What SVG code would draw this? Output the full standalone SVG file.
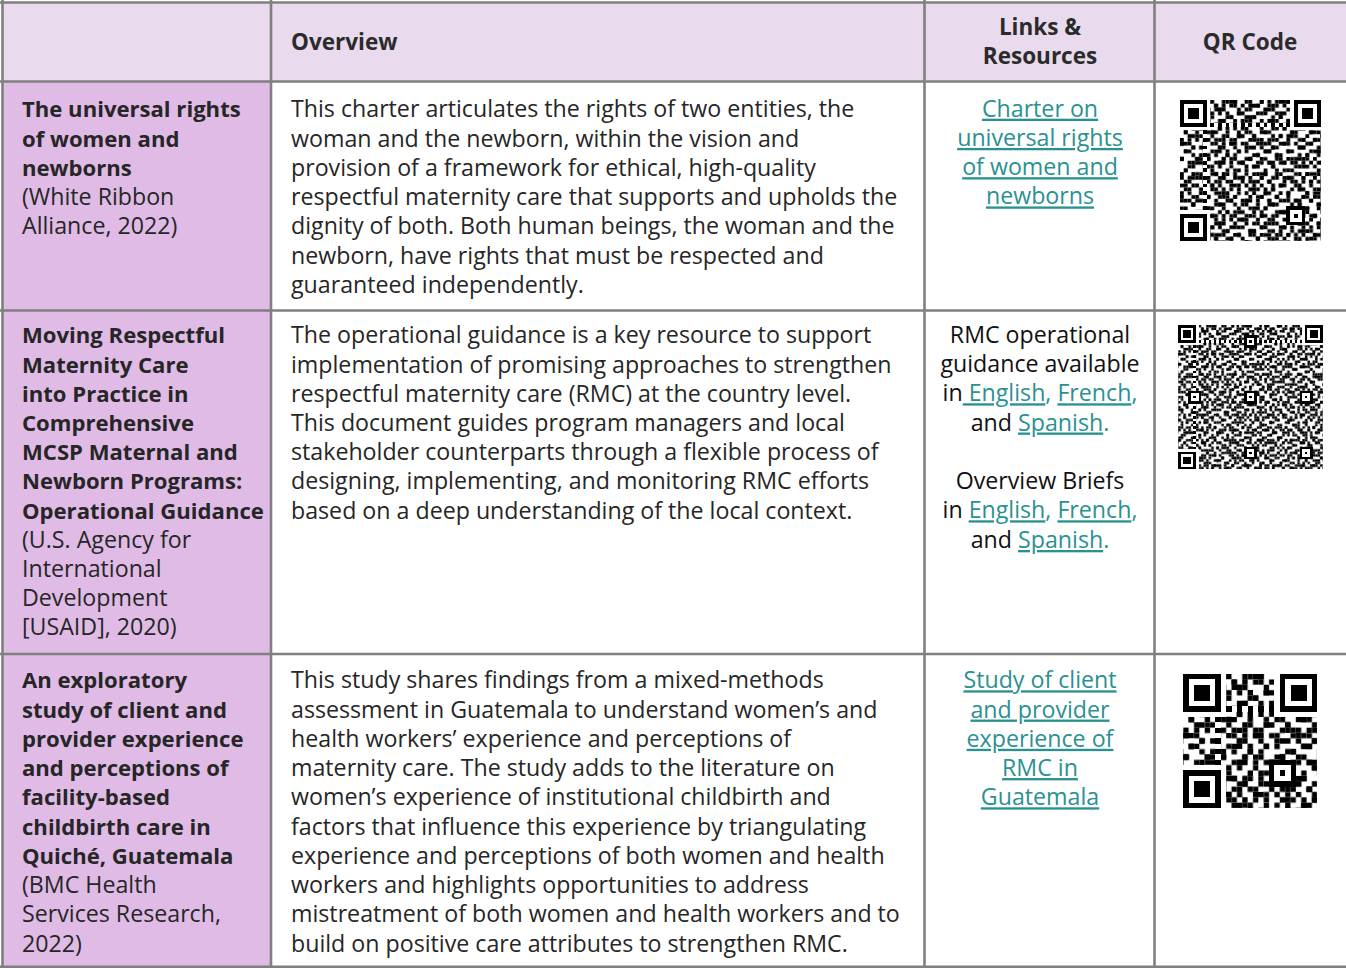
<svg xmlns="http://www.w3.org/2000/svg" width="1346" height="968" viewBox="0 0 1346 968">
<style>
.t{font-family:"Open Sans","Noto Sans","Liberation Sans",sans-serif;font-size:23.2px;fill:#262626}
.b{font-weight:bold;font-size:22.1px}
.h{font-family:"Open Sans","Noto Sans","Liberation Sans",sans-serif;font-weight:bold;font-size:22.5px;fill:#2b2b2b}
.c{text-anchor:middle}
.k{fill:#111}
.l{fill:#2a9191;text-decoration:underline}
.lc{fill:#2a9191}
.grid{stroke:#808080;stroke-width:2.6;fill:none}
.qr{shape-rendering:crispEdges}
</style>
<defs>
<pattern id="pa" width="7" height="5" patternUnits="userSpaceOnUse">
<path d="M0 0h1v1h-1zM4 0h1v1h-1zM2 1h1v1h-1zM6 1h1v1h-1zM3 2h1v1h-1zM1 3h1v1h-1zM5 4h1v1h-1z" fill="#000"/>
</pattern>
<pattern id="pb" width="11" height="13" patternUnits="userSpaceOnUse">
<path d="M1 0h1v1h-1zM6 0h1v1h-1zM3 1h1v1h-1zM9 1h1v1h-1zM0 2h1v1h-1zM7 2h1v1h-1zM4 3h2v1h-2zM10 3h1v1h-1zM2 4h1v1h-1zM8 4h1v1h-1zM6 5h1v1h-1zM0 6h1v1h-1zM3 6h1v1h-1zM9 6h1v1h-1zM5 7h1v1h-1zM10 7h1v1h-1zM1 8h1v1h-1zM7 8h1v1h-1zM4 9h1v1h-1zM8 9h1v1h-1zM2 10h1v1h-1zM9 10h1v1h-1zM0 11h1v1h-1zM6 11h1v1h-1zM3 12h1v1h-1zM10 12h1v1h-1z" fill="#000"/>
</pattern>
<pattern id="pc" width="13" height="11" patternUnits="userSpaceOnUse">
<path d="M0 0h2v1h-2zM8 0h1v1h-1zM5 1h2v1h-2zM11 1h1v1h-1zM2 2h1v1h-1zM9 2h2v1h-2zM7 3h1v1h-1zM12 3h1v1h-1zM0 4h1v1h-1zM4 4h2v1h-2zM3 5h1v1h-1zM10 5h2v1h-2zM6 6h2v1h-2zM1 7h1v1h-1zM12 7h1v1h-1zM4 8h1v1h-1zM8 8h2v1h-2zM2 9h2v1h-2zM11 9h1v1h-1zM6 10h1v1h-1zM10 10h1v1h-1z" fill="#000"/>
</pattern>
<g id="finder">
<rect x="-1" y="-1" width="9" height="9" fill="#fff"/>
<rect width="7" height="7" fill="#000"/>
<rect x="1" y="1" width="5" height="5" fill="#fff"/>
<rect x="2" y="2" width="3" height="3" fill="#000"/>
</g>
<g id="align">
<rect width="5" height="5" fill="#000"/>
<rect x="1" y="1" width="3" height="3" fill="#fff"/>
<rect x="2" y="2" width="1" height="1" fill="#000"/>
</g>
</defs>

<g id="backgrounds">
<rect x="2.5" y="2.5" width="1344" height="79" fill="#e9dbed"/>
<rect x="2.5" y="81.5" width="268.5" height="885" fill="#dfbbe6"/>
<rect x="271" y="81.5" width="1075" height="885" fill="#fff"/>
</g>

<g id="header">
<text class="h" x="291" y="50">Overview</text>
<text class="h c" x="1040" y="35">Links &amp;</text>
<text class="h c" x="1040" y="64">Resources</text>
<text class="h c" x="1250" y="50">QR Code</text>
</g>

<g id="row1">
<text class="t" x="22" y="117.3"><tspan class="b">The universal rights</tspan><tspan class="b" x="22" dy="29.25">of women and</tspan><tspan class="b" x="22" dy="29.25">newborns</tspan><tspan x="22" dy="29.25">(White Ribbon</tspan><tspan x="22" dy="29.25">Alliance, 2022)</tspan></text>
<text class="t" x="291" y="117.3"><tspan>This charter articulates the rights of two entities, the</tspan><tspan x="291" dy="29.25">woman and the newborn, within the vision and</tspan><tspan x="291" dy="29.25">provision of a framework for ethical, high-quality</tspan><tspan x="291" dy="29.25">respectful maternity care that supports and upholds the</tspan><tspan x="291" dy="29.25">dignity of both. Both human beings, the woman and the</tspan><tspan x="291" dy="29.25">newborn, have rights that must be respected and</tspan><tspan x="291" dy="29.25">guaranteed independently.</tspan></text>
<text class="t c l" x="1040" y="116.7"><tspan>Charter on</tspan><tspan x="1040" dy="29.25">universal rights</tspan><tspan x="1040" dy="29.25">of women and</tspan><tspan x="1040" dy="29.25">newborns</tspan></text>
<g class="qr" transform="translate(1180,100) scale(3.8)">
<rect width="37" height="37" fill="url(#pa)"/>
<rect width="37" height="37" fill="url(#pb)"/>
<rect width="37" height="37" fill="url(#pc)"/>
<path d="M8 6.5H29M6.5 8V29" stroke="#fff" stroke-width="1"/>
<path d="M8 6.5H29M6.5 8V29" stroke="#000" stroke-width="1" stroke-dasharray="1 1"/>
<use href="#finder"/>
<use href="#finder" x="30"/>
<use href="#finder" y="30"/>
<use href="#align" x="28" y="28"/>
</g>
</g>

<g id="row2">
<text class="t" x="22" y="343.3"><tspan class="b">Moving Respectful</tspan><tspan class="b" x="22" dy="29.2">Maternity Care</tspan><tspan class="b" x="22" dy="29.2">into Practice in</tspan><tspan class="b" x="22" dy="29.2">Comprehensive</tspan><tspan class="b" x="22" dy="29.2">MCSP Maternal and</tspan><tspan class="b" x="22" dy="29.2">Newborn Programs:</tspan><tspan class="b" x="22" dy="29.2">Operational Guidance</tspan><tspan x="22" dy="29.2">(U.S. Agency for</tspan><tspan x="22" dy="29.2">International</tspan><tspan x="22" dy="29.2">Development</tspan><tspan x="22" dy="29.2">[USAID], 2020)</tspan></text>
<text class="t" x="291" y="343.3"><tspan>The operational guidance is a key resource to support</tspan><tspan x="291" dy="29.2">implementation of promising approaches to strengthen</tspan><tspan x="291" dy="29.2">respectful maternity care (RMC) at the country level.</tspan><tspan x="291" dy="29.2">This document guides program managers and local</tspan><tspan x="291" dy="29.2">stakeholder counterparts through a flexible process of</tspan><tspan x="291" dy="29.2">designing, implementing, and monitoring RMC efforts</tspan><tspan x="291" dy="29.2">based on a deep understanding of the local context.</tspan></text>
<text class="t c k" x="1040" y="342.7">RMC operational</text>
<text class="t c k" x="1040" y="371.9">guidance available</text>
<text class="t c k" x="1040" y="401.3">in<tspan class="l"> English</tspan><tspan class="lc">, </tspan><tspan class="l">French</tspan><tspan class="lc">,</tspan></text>
<text class="t c k" x="1040" y="430.5">and <tspan class="l">Spanish</tspan><tspan class="lc">.</tspan></text>
<text class="t c k" x="1040" y="489">Overview Briefs</text>
<text class="t c k" x="1040" y="518.3">in <tspan class="l">English</tspan><tspan class="lc">, </tspan><tspan class="l">French</tspan><tspan class="lc">,</tspan></text>
<text class="t c k" x="1040" y="548">and <tspan class="l">Spanish</tspan><tspan class="lc">.</tspan></text>
<g class="qr" transform="translate(1178.3,325) scale(2.533)">
<rect width="57" height="57" fill="url(#pa)"/>
<rect width="57" height="57" fill="url(#pb)"/>
<rect width="57" height="57" fill="url(#pc)"/>
<path d="M8 6.5H49M6.5 8V49" stroke="#fff" stroke-width="1"/>
<path d="M8 6.5H49M6.5 8V49" stroke="#000" stroke-width="1" stroke-dasharray="1 1"/>
<use href="#finder"/>
<use href="#finder" x="50"/>
<use href="#finder" y="50"/>
<use href="#align" x="4" y="26"/>
<use href="#align" x="26" y="4"/>
<use href="#align" x="26" y="26"/>
<use href="#align" x="48" y="26"/>
<use href="#align" x="26" y="48"/>
<use href="#align" x="48" y="48"/>
</g>
</g>

<g id="row3">
<text class="t" x="22" y="688.3"><tspan class="b">An exploratory</tspan><tspan class="b" x="22" dy="29.27">study of client and</tspan><tspan class="b" x="22" dy="29.27">provider experience</tspan><tspan class="b" x="22" dy="29.27">and perceptions of</tspan><tspan class="b" x="22" dy="29.27">facility-based</tspan><tspan class="b" x="22" dy="29.27">childbirth care in</tspan><tspan class="b" x="22" dy="29.27">Quiché, Guatemala</tspan><tspan x="22" dy="29.27">(BMC Health</tspan><tspan x="22" dy="29.27">Services Research,</tspan><tspan x="22" dy="29.27">2022)</tspan></text>
<text class="t" x="291" y="688.3"><tspan>This study shares findings from a mixed-methods</tspan><tspan x="291" dy="29.27">assessment in Guatemala to understand women’s and</tspan><tspan x="291" dy="29.27">health workers’ experience and perceptions of</tspan><tspan x="291" dy="29.27">maternity care. The study adds to the literature on</tspan><tspan x="291" dy="29.27">women’s experience of institutional childbirth and</tspan><tspan x="291" dy="29.27">factors that influence this experience by triangulating</tspan><tspan x="291" dy="29.27">experience and perceptions of both women and health</tspan><tspan x="291" dy="29.27">workers and highlights opportunities to address</tspan><tspan x="291" dy="29.27">mistreatment of both women and health workers and to</tspan><tspan x="291" dy="29.27">build on positive care attributes to strengthen RMC.</tspan></text>
<text class="t c l" x="1040" y="688.3"><tspan>Study of client</tspan><tspan x="1040" dy="29.25">and provider</tspan><tspan x="1040" dy="29.25">experience of</tspan><tspan x="1040" dy="29.25">RMC in</tspan><tspan x="1040" dy="29.25">Guatemala</tspan></text>
<g class="qr" transform="translate(1183.3,674) scale(5.36)">
<rect width="25" height="25" fill="url(#pa)"/>
<rect width="25" height="25" fill="url(#pb)"/>
<rect width="25" height="25" fill="url(#pc)"/>
<path d="M8 6.5H17M6.5 8V17" stroke="#fff" stroke-width="1"/>
<path d="M8 6.5H17M6.5 8V17" stroke="#000" stroke-width="1" stroke-dasharray="1 1"/>
<use href="#finder"/>
<use href="#finder" x="18"/>
<use href="#finder" y="18"/>
<use href="#align" x="16" y="16"/>
</g>
</g>

<g id="connectors" class="grid">
<path d="M0 2.5H1346M0 81.5H1346M0 310.5H1346M0 654H1346M0 966.7H1346"/>
<path d="M2.5 0V968M271 0V968M924.5 0V968M1154.5 0V968"/>
</g>
</svg>
